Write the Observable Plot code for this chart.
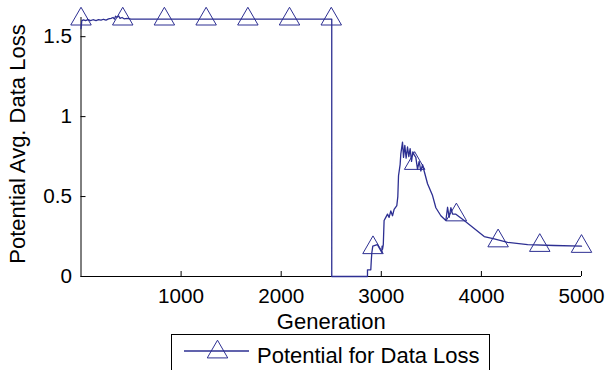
<!DOCTYPE html>
<html>
<head>
<meta charset="utf-8">
<script src="https://cdn.jsdelivr.net/npm/d3@7"></script>
<script src="https://cdn.jsdelivr.net/npm/@observablehq/plot@0.6"></script>
<style>
  html, body { margin: 0; padding: 0; background: #fff; }
  #wrap { position: relative; width: 608px; height: 370px; overflow: hidden; font-family: "Liberation Sans", Arial, sans-serif; }
  #legend { position: absolute; left: 171px; top: 334px; width: 319px; height: 44px; border: 1px solid #000; box-sizing: border-box; background: #fff; }
  #legend svg { position: absolute; left: 0; top: 0; }
  #legend span { position: absolute; left: 85px; top: 10px; font-size: 22px; color: #000; line-height: 22px; white-space: nowrap; }
</style>
</head>
<body>
<div id="wrap"></div>
<script>
// Line series: generation vs potential avg. data loss
const gen = [0, 8, 25, 45, 70, 95, 120, 150, 175, 200, 225, 250, 275, 300, 320, 335, 345, 360, 375, 390, 410, 430, 460, 500,
  2505, 2505, 2862, 2862, 2895, 2900, 2905, 2915, 2960, 3005, 3008, 3012, 3020, 3028, 3045, 3062, 3078, 3095, 3112, 3128, 3155, 3165,
  3172, 3188, 3195, 3212, 3222, 3235, 3248, 3262, 3275, 3288, 3302, 3315, 3328, 3345, 3362, 3378, 3395, 3412, 3428, 3462, 3512, 3545,
  3595, 3645, 3662, 3678, 3695, 3712, 3745, 3828, 3928, 4028, 4128, 4262, 4462, 4728, 5000];
const loss = [1.55, 1.60, 1.605, 1.60, 1.607, 1.600, 1.606, 1.601, 1.607, 1.603, 1.609, 1.604, 1.611, 1.615, 1.62, 1.61, 1.628, 1.622, 1.63, 1.615, 1.62, 1.612, 1.614, 1.61,
  1.61, 0, 0, 0.042, 0.042, 0.10, 0.146, 0.19, 0.20, 0.15, 0.19, 0.17, 0.20, 0.35, 0.37, 0.39, 0.37, 0.41, 0.38, 0.42, 0.444, 0.50,
  0.63, 0.70, 0.767, 0.84, 0.745, 0.82, 0.74, 0.81, 0.75, 0.80, 0.72, 0.78, 0.76, 0.745, 0.67, 0.72, 0.66, 0.70, 0.66, 0.58, 0.506, 0.43,
  0.38, 0.35, 0.433, 0.37, 0.43, 0.39, 0.39, 0.35, 0.30, 0.25, 0.235, 0.214, 0.20, 0.194, 0.19];

// Marker samples
const markerGen = [0, 417, 833, 1250, 1667, 2083, 2500, 2917, 3333, 3750, 4167, 4583, 5000];
const markerLoss = [1.61, 1.61, 1.61, 1.61, 1.61, 1.61, 1.61, 0.18, 0.707, 0.385, 0.2225, 0.194, 0.188];

const xTicks = [1000, 2000, 3000, 4000, 5000];
const yTicks = [0, 0.5, 1, 1.5];
const yTickLabels = ["0", "0.5", "1", "1.5"];
const xLabel = "Generation";
const yLabel = "Potential Avg. Data Loss";
const seriesName = "Potential for Data Loss";

const lineData = gen.map((g, i) => ({gen: g, loss: loss[i]}));
const markerData = markerGen.map((g, i) => ({gen: g, loss: markerLoss[i]}));
const color = "#2d2f92";

const chart = Plot.plot({
  width: 608,
  height: 333,
  marginLeft: 80.5,
  marginRight: 27,
  marginTop: 17,
  marginBottom: 57,
  style: {fontFamily: "Liberation Sans, Arial, sans-serif", fontSize: "20.7px", color: "#000", background: "#fff"},
  x: {domain: [0, 5000]},
  y: {domain: [0, 1.62]},
  marks: [
    Plot.axisX({ticks: xTicks, tickSize: 0, tickPadding: 12, label: null, tickFormat: d => String(d)}),
    Plot.axisY({ticks: yTicks, tickSize: 0, tickPadding: 9, label: null, tickFormat: (d, i) => yTickLabels[i]}),
    Plot.ruleX(xTicks, {x: d => d, y1: 0, y2: 5 / 160, stroke: "#000"}),
    Plot.ruleY(yTicks, {y: d => d, x1: 0, x2: 50, stroke: "#000"}),
    Plot.ruleY([0], {stroke: "#000"}),
    Plot.ruleX([0], {stroke: "#000"}),
    Plot.line(lineData, {x: "gen", y: "loss", stroke: color, strokeWidth: 1.3, curve: "linear"}),
    Plot.dot(markerData, {x: "gen", y: "loss", symbol: "triangle", r: 7.6, stroke: color, strokeWidth: 1, fill: "none"}),
    Plot.text([xLabel], {frameAnchor: "bottom", lineAnchor: "top", dy: 37, fontSize: 22, fill: "#000"}),
    Plot.text([yLabel], {frameAnchor: "left", textAnchor: "middle", dx: -63.5, dy: -3, rotate: -90, fontSize: 22, fill: "#000"})
  ]
});

const wrap = document.getElementById("wrap");
wrap.appendChild(chart);

// Legend below the chart
const legend = document.createElement("div");
legend.id = "legend";
const ns = "http://www.w3.org/2000/svg";
const lsvg = document.createElementNS(ns, "svg");
lsvg.setAttribute("width", 90);
lsvg.setAttribute("height", 40);
const ln = document.createElementNS(ns, "line");
ln.setAttribute("x1", 12); ln.setAttribute("x2", 77);
ln.setAttribute("y1", 16); ln.setAttribute("y2", 16);
ln.setAttribute("stroke", color); ln.setAttribute("stroke-width", 1.3);
lsvg.appendChild(ln);
const tri = document.createElementNS(ns, "path");
tri.setAttribute("d", d3.symbol(d3.symbolTriangle, Math.PI * 7.6 * 7.6)());
tri.setAttribute("transform", "translate(45.5,17)");
tri.setAttribute("fill", "none"); tri.setAttribute("stroke", color);
lsvg.appendChild(tri);
legend.appendChild(lsvg);
const lt = document.createElement("span");
lt.textContent = seriesName;
legend.appendChild(lt);
wrap.appendChild(legend);
</script>
</body>
</html>
